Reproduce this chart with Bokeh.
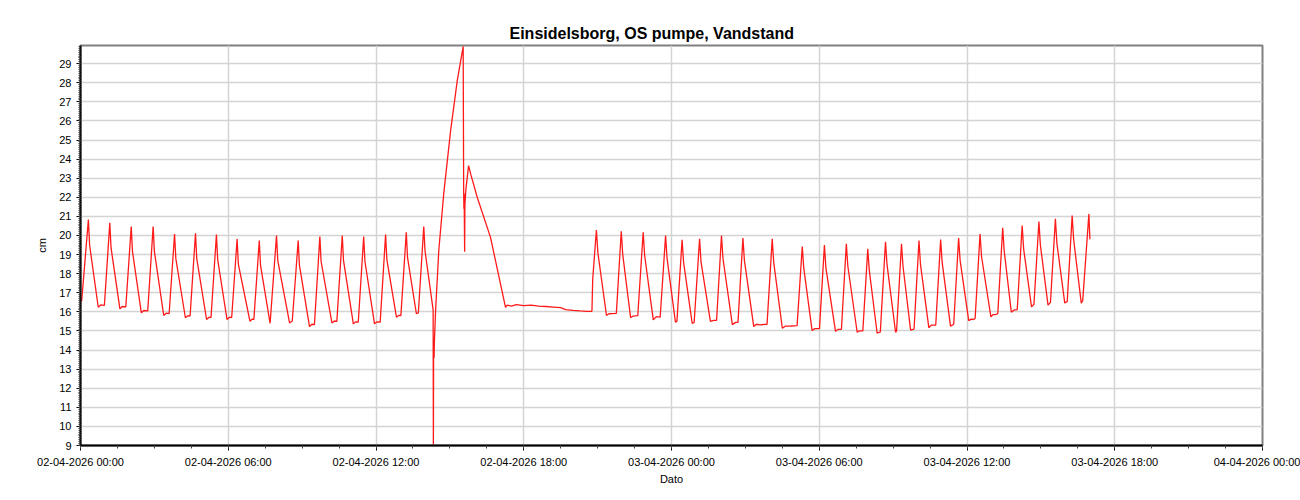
import pandas as pd
from bokeh.plotting import figure
from bokeh.models import (Range1d, FixedTicker, SingleIntervalTicker,
                          DatetimeTickFormatter, ColumnDataSource)
from bokeh.embed import file_html
from bokeh.resources import INLINE

TITLE = "Einsidelsborg, OS pumpe, Vandstand"
X_LABEL = "Dato"
Y_LABEL = "cm"
START = "2026-04-02 00:00"
END = "2026-04-04 00:00"

# ---- data: hours since START, water level in cm ----
seg1_hours = [0.00, 0.05, 0.32, 0.37, 0.72, 0.82,
              0.97, 1.19, 1.24, 1.60, 1.70,
              1.84, 2.06, 2.11, 2.47, 2.57,
              2.73, 2.95, 3.00, 3.38, 3.48,
              3.60, 3.82, 3.87, 4.26, 4.36,
              4.45, 4.67, 4.72, 5.12, 5.22,
              5.30, 5.52, 5.57, 5.95, 6.05,
              6.14, 6.36, 6.41, 6.88, 6.98,
              7.04, 7.26, 7.31, 7.70,
              7.96, 8.01, 8.49, 8.60,
              8.84, 8.89, 9.30, 9.40,
              9.50, 9.72, 9.77, 10.21, 10.31,
              10.41, 10.63, 10.68, 11.08, 11.18,
              11.28, 11.50, 11.55, 11.94, 12.04,
              12.17, 12.39, 12.44, 12.83, 12.93,
              13.01, 13.23, 13.28, 13.64, 13.72,
              13.94, 13.99, 14.32]
seg1_cm = [16.55, 16.60, 20.83, 19.50, 16.24, 16.36,
           16.34, 20.66, 19.36, 16.16, 16.28,
           16.26, 20.47, 19.17, 15.95, 16.07,
           16.05, 20.47, 19.17, 15.81, 15.93,
           15.91, 20.08, 18.80, 15.69, 15.80,
           15.78, 20.12, 18.80, 15.60, 15.72,
           15.70, 20.05, 18.75, 15.60, 15.72,
           15.70, 19.82, 18.50, 15.51, 15.62,
           15.60, 19.73, 18.45, 15.40,
           20.00, 18.70, 15.42, 15.52,
           19.73, 18.45, 15.23, 15.35,
           15.33, 19.94, 18.65, 15.42, 15.52,
           15.50, 20.00, 18.70, 15.37, 15.48,
           15.46, 19.94, 18.65, 15.37, 15.48,
           15.46, 20.05, 18.75, 15.72, 15.82,
           15.80, 20.17, 18.85, 15.90, 15.95,
           20.47, 19.20, 16.10]

event_hours = [14.33, 14.34, 14.36, 14.37, 14.42, 14.55, 14.75, 15.03, 15.30, 15.54,
               15.56, 15.57, 15.58, 15.60, 15.61, 15.65, 15.76, 15.85, 16.11, 16.65, 17.26,
               17.33, 17.50, 17.70, 18.00, 18.30, 18.60, 18.90, 19.20, 19.50, 19.70,
               20.00, 20.30, 20.55, 20.75]
event_cm = [9.05, 14.50, 13.60, 14.40, 16.07, 19.21, 22.18, 25.49, 28.11, 29.90,
            22.30, 21.40, 22.20, 19.15, 21.60, 22.40, 23.66, 23.20, 22.00, 19.90, 16.24,
            16.35, 16.30, 16.38, 16.33, 16.35, 16.30, 16.28, 16.25, 16.22, 16.12,
            16.08, 16.05, 16.03, 16.02]

seg2_hours = [20.77, 20.80, 20.95, 21.01, 21.36, 21.46,
              21.76, 21.96, 22.02, 22.34, 22.44,
              22.63, 22.85, 22.91, 23.26, 23.38,
              23.54, 23.76, 23.82, 24.16,
              24.22, 24.43, 24.49, 24.84,
              24.92, 25.14, 25.20, 25.58, 25.72,
              25.83, 26.03, 26.09, 26.47, 26.60,
              26.70, 26.90, 26.96, 27.34, 27.45, 27.60,
              27.88, 28.09, 28.15, 28.50, 28.62, 28.85,
              29.10, 29.31, 29.37, 29.71, 29.82,
              30.01, 30.21, 30.27, 30.66, 30.76,
              30.90, 31.10, 31.16, 31.54, 31.62,
              31.77, 31.97, 32.03, 32.35,
              32.48, 32.69, 32.75, 33.10,
              33.14, 33.34, 33.40, 33.71,
              33.85, 34.05, 34.11, 34.45, 34.55,
              34.73, 34.93, 34.99, 35.33,
              35.46, 35.66, 35.72, 36.07, 36.17, 36.27,
              36.33, 36.53, 36.59, 36.97, 37.05, 37.15,
              37.25, 37.45, 37.51, 37.80, 37.92, 38.00,
              38.04, 38.24, 38.30, 38.62,
              38.72, 38.92, 38.98, 39.29,
              39.39, 39.59, 39.65, 39.97,
              40.07, 40.27, 40.33, 40.64,
              40.70, 40.95, 40.99]
seg2_cm = [16.05, 17.70, 20.29, 19.10, 15.81, 15.90,
           15.92, 20.22, 19.00, 15.69, 15.78,
           15.80, 20.17, 18.95, 15.58, 15.75,
           15.72, 20.00, 18.80, 15.46,
           15.50, 19.77, 18.60, 15.40,
           15.45, 19.82, 18.60, 15.50, 15.55,
           15.55, 20.00, 18.80, 15.33, 15.45,
           15.45, 19.87, 18.70, 15.23, 15.35, 15.32,
           15.35, 19.82, 18.60, 15.14, 15.25, 15.26,
           15.28, 19.42, 18.30, 15.02, 15.12,
           15.12, 19.50, 18.30, 14.98, 15.08,
           15.08, 19.56, 18.40, 14.93, 15.00,
           15.00, 19.30, 18.20, 14.88,
           14.95, 19.67, 18.50, 14.93,
           15.00, 19.56, 18.40, 15.04,
           15.10, 19.73, 18.50, 15.17, 15.30,
           15.30, 19.79, 18.60, 15.25,
           15.35, 19.87, 18.70, 15.54, 15.62, 15.60,
           15.65, 20.08, 18.90, 15.74, 15.85, 15.85,
           15.90, 20.40, 19.20, 15.98, 16.10, 16.10,
           16.12, 20.52, 19.30, 16.26,
           16.40, 20.73, 19.50, 16.35,
           16.50, 20.87, 19.60, 16.46,
           16.55, 21.04, 19.80, 16.46,
           16.60, 21.13, 19.80]

Y_MIN, Y_MAX = 9, 29.95

# ---- build ----
t0 = pd.Timestamp(START)
t1 = pd.Timestamp(END)
hours = seg1_hours + event_hours + seg2_hours
levels = seg1_cm + event_cm + seg2_cm
times = [t0 + pd.Timedelta(hours=h) for h in hours]
src = ColumnDataSource(dict(t=times, v=levels))

t0_ms = t0.value // 10**6
HOUR = 3600 * 1000
major = [t0_ms + k * 6 * HOUR for k in range(9)]
minor = [t0_ms + int(k * 1.5 * HOUR) for k in range(33)]

FONT = "Liberation Sans"

p = figure(width=1300, height=500, x_axis_type="datetime",
           output_backend="svg", toolbar_location=None,
           x_range=Range1d(t0, t1), y_range=Range1d(Y_MIN, Y_MAX),
           min_border_left=80, min_border_right=38,
           min_border_top=45, min_border_bottom=55,
           background_fill_color="white", border_fill_color="white",
           title=TITLE)

p.line("t", "v", source=src, line_color="#ff1a1a", line_width=1.3)

p.title.align = "left"
p.title.text_font = FONT
p.title.text_font_size = "16px"
p.title.text_font_style = "bold"
p.title.text_color = "black"
p.title.offset = 429
p.title.standoff = 8

p.outline_line_color = "#808080"
p.outline_line_width = 2

xa = p.xaxis[0]
xa.ticker = FixedTicker(ticks=major, minor_ticks=minor)
xa.formatter = DatetimeTickFormatter(
    milliseconds="%d-%m-%Y %H:%M", seconds="%d-%m-%Y %H:%M",
    minsec="%d-%m-%Y %H:%M", minutes="%d-%m-%Y %H:%M",
    hourmin="%d-%m-%Y %H:%M", hours="%d-%m-%Y %H:%M",
    days="%d-%m-%Y %H:%M", months="%d-%m-%Y %H:%M", years="%d-%m-%Y %H:%M")
xa.axis_label = X_LABEL

ya = p.yaxis[0]
ya.ticker = SingleIntervalTicker(interval=1, num_minor_ticks=10)
ya.axis_label = Y_LABEL

for ax in (xa, ya):
    ax.axis_line_color = "black"
    ax.axis_line_width = 2
    ax.major_tick_line_color = "black"
    ax.minor_tick_line_color = "#444444"
    ax.major_tick_in = 0
    ax.minor_tick_in = 0
    ax.major_label_text_font = FONT
    ax.major_label_text_font_size = "11px"
    ax.major_label_text_color = "black"
    ax.axis_label_text_font = FONT
    ax.axis_label_text_font_size = "11px"
    ax.axis_label_text_font_style = "normal"
    ax.axis_label_text_color = "black"

xa.major_tick_out = 5
xa.minor_tick_out = 3
xa.major_label_standoff = 5
xa.axis_label_standoff = 2
ya.major_tick_out = 4
ya.minor_tick_out = 2
ya.major_label_standoff = 5
ya.axis_label_standoff = 8

p.xgrid.ticker = FixedTicker(ticks=major)
p.ygrid.ticker = SingleIntervalTicker(interval=1)
for g in (p.xgrid[0], p.ygrid[0]):
    g.grid_line_color = "#d4d4d4"
    g.grid_line_width = 1.5

open("out.html", "w").write(file_html(p, INLINE))
